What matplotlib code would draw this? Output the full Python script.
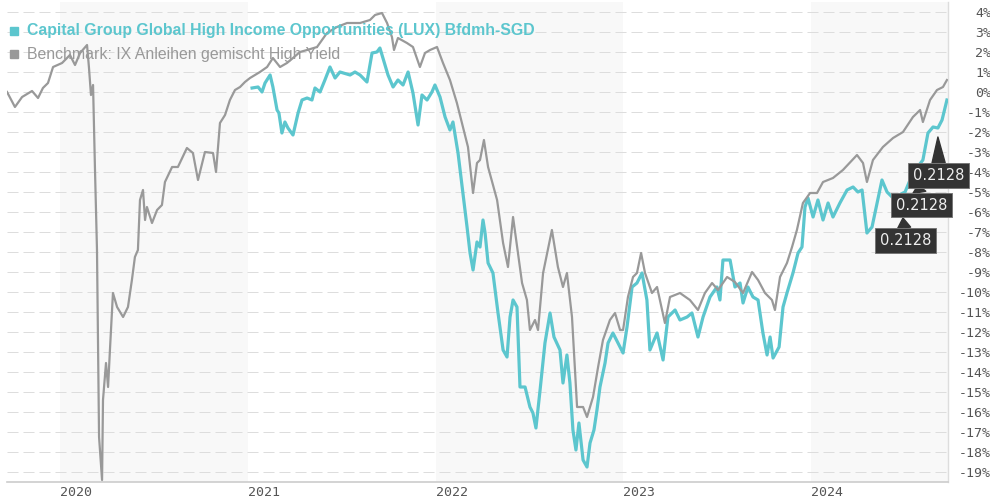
import matplotlib.pyplot as plt
from matplotlib.patches import Rectangle

# benchmark, decimal years / percent
bm_t = [2019.718, 2019.760, 2019.798, 2019.851, 2019.883, 2019.909, 2019.936, 2019.963,
        2020.011, 2020.053, 2020.080, 2020.107, 2020.144, 2020.154, 2020.165, 2020.176,
        2020.186, 2020.197, 2020.208, 2020.224, 2020.229, 2020.245, 2020.256, 2020.266,
        2020.282, 2020.304, 2020.336, 2020.362, 2020.383, 2020.399, 2020.415, 2020.426,
        2020.442, 2020.453, 2020.463, 2020.490, 2020.517, 2020.543, 2020.559, 2020.597,
        2020.628, 2020.676, 2020.708, 2020.735, 2020.772, 2020.815, 2020.831, 2020.852,
        2020.879, 2020.905, 2020.932, 2020.959, 2020.985, 2021.012, 2021.065, 2021.103,
        2021.134, 2021.172, 2021.209, 2021.241, 2021.278, 2021.316, 2021.369, 2021.422,
        2021.475, 2021.529, 2021.598, 2021.651, 2021.678, 2021.715, 2021.742, 2021.768,
        2021.779, 2021.800, 2021.848, 2021.880, 2021.917, 2021.944, 2021.971, 2022.008,
        2022.040, 2022.077, 2022.114, 2022.146, 2022.173, 2022.200, 2022.221, 2022.237,
        2022.258, 2022.280, 2022.328, 2022.360, 2022.386, 2022.413, 2022.439, 2022.461,
        2022.487, 2022.503, 2022.530, 2022.546, 2022.573, 2022.620, 2022.652, 2022.679,
        2022.700, 2022.727, 2022.754, 2022.786, 2022.807, 2022.839, 2022.866, 2022.892,
        2022.929, 2022.956, 2022.983, 2022.999, 2023.025, 2023.052, 2023.073, 2023.095,
        2023.116, 2023.153, 2023.180, 2023.222, 2023.249, 2023.302, 2023.355, 2023.398,
        2023.435, 2023.473, 2023.505, 2023.553, 2023.595, 2023.638, 2023.686, 2023.718,
        2023.755, 2023.792, 2023.808, 2023.835, 2023.872, 2023.899, 2023.925, 2023.957,
        2023.995, 2024.032, 2024.064, 2024.117, 2024.170, 2024.245, 2024.277, 2024.298,
        2024.330, 2024.383, 2024.437, 2024.490, 2024.543, 2024.581, 2024.596, 2024.634,
        2024.671, 2024.703, 2024.724]
bm = [0.0, -0.75, -0.25, 0.05, -0.3, 0.2, 0.45, 1.25,
      1.45, 1.85, 1.35, 1.95, 2.35, 1.25, -0.15, 0.35,
      -3.75, -7.9, -17.25, -19.4, -15.4, -13.55, -14.75, -12.9,
      -10.05, -10.75, -11.25, -10.75, -9.4, -8.25, -7.9, -5.4,
      -4.9, -6.4, -5.75, -6.55, -5.9, -5.65, -4.5, -3.75,
      -3.75, -2.8, -3.05, -4.4, -3.0, -3.05, -4.0, -1.55,
      -1.15, -0.4, 0.1, 0.25, 0.5, 0.7, 1.0, 1.25,
      1.7, 1.25, 1.45, 1.7, 2.0, 2.1, 2.25, 2.95,
      3.25, 3.45, 3.45, 3.6, 3.85, 3.95, 3.45, 2.75,
      2.1, 2.7, 2.45, 2.25, 1.25, 1.95, 2.1, 2.25,
      1.45, 0.6, -0.55, -1.75, -2.75, -5.05, -3.55, -3.4,
      -2.4, -3.75, -5.4, -7.55, -8.75, -6.25, -8.05, -9.55,
      -10.4, -11.9, -11.4, -11.9, -9.05, -6.9, -8.75, -9.75,
      -9.05, -11.25, -15.75, -15.75, -16.25, -15.25, -13.75, -12.4,
      -11.4, -11.05, -11.9, -11.9, -10.25, -9.25, -9.05, -8.05,
      -9.05, -10.05, -9.75, -11.55, -10.25, -10.05, -10.4, -10.9,
      -10.05, -9.55, -9.9, -9.25, -9.5, -10.05, -9.0, -9.4,
      -10.05, -10.4, -10.9, -9.25, -8.55, -7.75, -6.9, -5.55,
      -5.05, -5.05, -4.5, -4.3, -3.9, -3.15, -3.55, -4.5,
      -3.4, -2.75, -2.3, -2.0, -1.25, -0.9, -1.5, -0.4,
      0.1, 0.25, 0.6]

# fund
fund_t = [2021.023, 2021.055, 2021.076, 2021.092, 2021.119, 2021.134, 2021.156, 2021.166,
          2021.182, 2021.198, 2021.214, 2021.241, 2021.268, 2021.289, 2021.316, 2021.342,
          2021.358, 2021.385, 2021.411, 2021.438, 2021.465, 2021.491, 2021.545, 2021.571,
          2021.598, 2021.635, 2021.662, 2021.688, 2021.704, 2021.720, 2021.747, 2021.774,
          2021.800, 2021.827, 2021.854, 2021.880, 2021.907, 2021.928, 2021.955, 2021.981,
          2021.997, 2022.024, 2022.051, 2022.077, 2022.093, 2022.120, 2022.146, 2022.168,
          2022.184, 2022.200, 2022.221, 2022.237, 2022.253, 2022.264, 2022.280, 2022.306,
          2022.333, 2022.360, 2022.381, 2022.397, 2022.413, 2022.434, 2022.450, 2022.477,
          2022.503, 2022.519, 2022.535, 2022.557, 2022.583, 2022.610, 2022.631, 2022.663,
          2022.679, 2022.700, 2022.716, 2022.732, 2022.748, 2022.764, 2022.786, 2022.807,
          2022.823, 2022.844, 2022.860, 2022.876, 2022.903, 2022.919, 2022.945, 2022.983,
          2022.999, 2023.020, 2023.047, 2023.073, 2023.100, 2023.126, 2023.142, 2023.180,
          2023.212, 2023.238, 2023.276, 2023.302, 2023.340, 2023.366, 2023.398, 2023.425,
          2023.462, 2023.499, 2023.515, 2023.531, 2023.569, 2023.595, 2023.622, 2023.638,
          2023.664, 2023.691, 2023.718, 2023.744, 2023.766, 2023.782, 2023.798, 2023.830,
          2023.851, 2023.872, 2023.904, 2023.931, 2023.952, 2023.968, 2023.984, 2024.011,
          2024.037, 2024.064, 2024.091, 2024.117, 2024.154, 2024.192, 2024.224, 2024.250,
          2024.272, 2024.298, 2024.325, 2024.352, 2024.378, 2024.405, 2024.437, 2024.501,
          2024.543, 2024.596, 2024.623, 2024.650, 2024.676, 2024.698, 2024.724]
fund = [0.2, 0.25, 0.0, 0.45, 0.85, 0.25, -0.9, -1.05,
        -2.05, -1.5, -1.8, -2.15, -1.05, -0.4, -0.3, -0.4,
        0.2, 0.0, 0.6, 1.25, 0.7, 1.0, 0.85, 1.0,
        0.85, 0.5, 1.95, 2.0, 2.2, 1.7, 0.85, 0.25,
        0.6, 0.35, 1.0, -0.05, -1.65, -0.15, -0.4, 0.0,
        0.35, -0.25, -1.25, -1.9, -1.5, -3.05, -5.05, -6.75,
        -8.05, -8.9, -7.5, -7.75, -6.4, -7.05, -8.55, -9.05,
        -11.05, -12.9, -13.25, -11.25, -10.4, -10.75, -14.75, -14.75,
        -15.75, -16.05, -16.8, -14.9, -12.55, -11.05, -12.25, -12.9,
        -14.55, -13.15, -14.55, -16.9, -17.9, -16.55, -18.4, -18.75,
        -17.55, -16.9, -15.9, -14.75, -13.55, -12.55, -12.05, -12.75,
        -13.05, -11.75, -9.75, -9.55, -9.05, -10.4, -12.9, -12.05,
        -13.4, -11.25, -10.9, -11.4, -11.25, -11.05, -12.25, -11.25,
        -10.25, -9.75, -10.4, -8.4, -8.4, -9.75, -9.55, -10.55,
        -9.75, -10.25, -10.4, -12.05, -13.15, -12.25, -13.3, -12.75,
        -10.75, -10.05, -9.05, -8.05, -7.75, -5.75, -5.3, -6.25,
        -5.4, -6.4, -5.55, -6.25, -5.55, -4.9, -4.75, -5.0,
        -4.9, -7.05, -6.75, -5.55, -4.4, -5.0, -5.3, -5.0,
        -4.05, -3.4, -2.05, -1.75, -1.8, -1.4, -0.4]

years = [2020, 2021, 2022, 2023, 2024]
shaded = [2020, 2022, 2024]
yticks = list(range(-19, 5))

# tooltip anchors
tip_t = [2024.490, 2024.570, 2024.676]
tip_v = [-6.3, -4.65, -2.25]
tip_txt = ['0.2128', '0.2128', '0.2128']

fund_name = 'Capital Group Global High Income Opportunities (LUX) Bfdmh-SGD'
bm_name = 'Benchmark: IX Anleihen gemischt High Yield'

cyan = '#5cc6ce'
grey = '#999999'

fig = plt.figure(figsize=(9.9, 5), dpi=100)
ax = fig.add_axes([7/990, 18/500, 941/990, 480/500])
ax.set_xlim(2019.7177, 2024.7297)
ax.set_ylim(-19.5, 4.5)

for y in shaded:
    ax.axvspan(y, y + 1, color='#f8f8f8', lw=0, zorder=0)

ax.set_yticks(yticks)
ax.set_yticklabels([f'{v}%' for v in yticks])
ax.yaxis.grid(True, color='#dddddd', lw=0.72, dashes=(11, 5))
ax.set_axisbelow(True)
ax.tick_params(axis='y', length=0, pad=31, labelright=True, labelleft=False,
               labelsize=9.5, labelcolor='#555555')
for lab in ax.get_yticklabels():
    lab.set_ha('right')
    lab.set_family('DejaVu Sans Mono')

ax.set_xticks(years)
ax.set_xticklabels([str(y) for y in years])
ax.tick_params(axis='x', length=0, pad=3, labelsize=9.5, labelcolor='#555555')
for lab in ax.get_xticklabels():
    lab.set_ha('left')
    lab.set_family('DejaVu Sans Mono')

for s in ['top', 'left']:
    ax.spines[s].set_visible(False)
ax.spines['bottom'].set_color('#cccccc')
ax.spines['right'].set_color('#dddddd')
ax.spines['bottom'].set_linewidth(1.2)
ax.spines['right'].set_linewidth(1.0)

ax.plot(fund_t, fund, color=cyan, lw=2.3, zorder=3)
ax.plot(bm_t, bm, color=grey, lw=1.6, zorder=4)

# legend at top left
fig.add_artist(Rectangle((10/990, 1 - 35/500), 8/990, 8/500, color=cyan, transform=fig.transFigure))
fig.add_artist(Rectangle((10/990, 1 - 58/500), 8/990, 8/500, color=grey, transform=fig.transFigure))
fig.text(27/990, 1 - 31/500, fund_name, color=cyan, fontsize=11.4, fontweight='bold',
         family='Liberation Sans', va='center')
fig.text(27/990, 1 - 54/500, bm_name, color=grey, fontsize=11.4,
         family='Liberation Sans', va='center')

# tooltips
offs = [(2.5, -22.5), (3.5, -20), (1, -38.5)]
for t, v, s, o in zip(tip_t, tip_v, tip_txt, offs):
    ax.annotate(s, xy=(t, v), xytext=o, textcoords='offset pixels',
                ha='center', va='center', color='#eeeeee', fontsize=10.5,
                bbox=dict(boxstyle='square,pad=0.33', fc='#333333', ec='#777777', lw=0.7),
                arrowprops=dict(arrowstyle='wedge,tail_width=0.9,shrink_factor=0.5',
                                fc='#333333', ec='#333333', shrinkA=0, shrinkB=0),
                annotation_clip=False, zorder=6)

fig.savefig('out.png', dpi=100)
